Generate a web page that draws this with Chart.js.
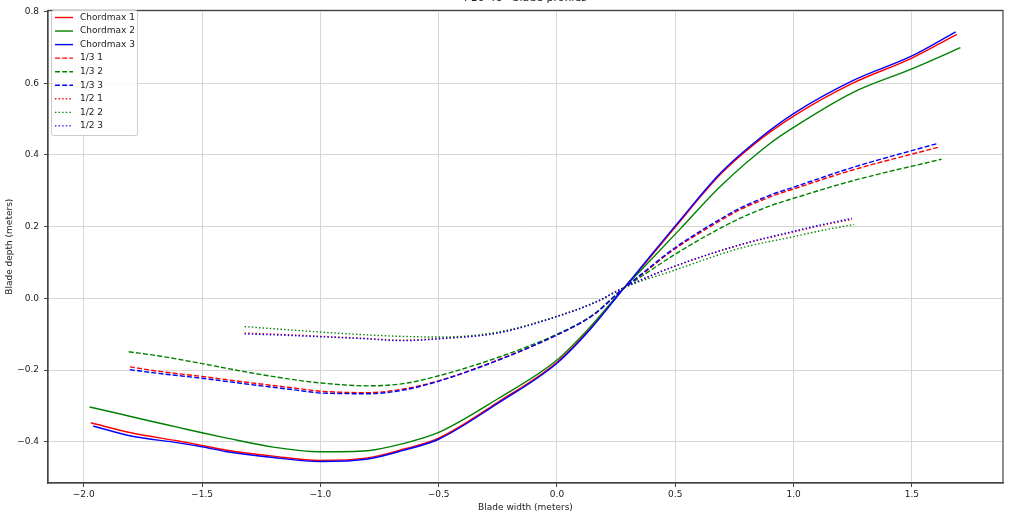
<!DOCTYPE html>
<html>
<head>
<meta charset="utf-8">
<script src="https://cdn.jsdelivr.net/npm/chart.js@4.4.1/dist/chart.umd.min.js"></script>
<style>
  html, body { margin: 0; padding: 0; background: #fff; }
  #wrap { width: 1024px; height: 524px; }
</style>
</head>
<body>
<div id="wrap"><canvas id="profilesChart" width="1024" height="524"></canvas></div>
<script>
// chart texts
const chartTitle = 'F16-4c - blade profiles';
const xTitle = 'Blade width (meters)';
const yTitle = 'Blade depth (meters)';
const seriesNames = ['Chordmax 1', 'Chordmax 2', 'Chordmax 3', '1/3 1', '1/3 2', '1/3 3', '1/2 1', '1/2 2', '1/2 3'];
const xTicks = [-2.0, -1.5, -1.0, -0.5, 0.0, 0.5, 1.0, 1.5];
const yTicks = [-0.4, -0.2, 0.0, 0.2, 0.4, 0.6, 0.8];

// Chordmax profiles (solid)
const chordX1 = [-1.97, -1.8, -1.6, -1.5, -1.4, -1.2, -1.0, -0.8, -0.65, -0.5, -0.25, 0.0, 0.14, 0.28, 0.35, 0.5, 0.69, 0.83, 1.0, 1.25, 1.5, 1.69];
const chordY1 = [-0.347, -0.375, -0.398, -0.410, -0.423, -0.440, -0.452, -0.445, -0.421, -0.390, -0.290, -0.178, -0.085, 0.027, 0.080, 0.199, 0.345, 0.428, 0.508, 0.600, 0.670, 0.736];
const chordX2 = [-1.975, -1.85, -1.72, -1.6, -1.5, -1.4, -1.2, -1.0, -0.8, -0.65, -0.5, -0.25, 0.0, 0.14, 0.28, 0.35, 0.52, 0.69, 0.9, 1.0, 1.25, 1.5, 1.705];
const chordY2 = [-0.303, -0.322, -0.342, -0.360, -0.375, -0.389, -0.415, -0.428, -0.425, -0.405, -0.374, -0.280, -0.172, -0.080, 0.027, 0.075, 0.193, 0.312, 0.432, 0.477, 0.574, 0.640, 0.699];
const chordX3 = [-1.96, -1.8, -1.6, -1.5, -1.4, -1.2, -1.0, -0.8, -0.65, -0.5, -0.25, 0.0, 0.14, 0.28, 0.35, 0.5, 0.69, 0.83, 1.0, 1.25, 1.5, 1.685];
const chordY3 = [-0.356, -0.384, -0.403, -0.414, -0.427, -0.444, -0.455, -0.448, -0.424, -0.393, -0.293, -0.181, -0.087, 0.026, 0.082, 0.202, 0.349, 0.432, 0.515, 0.607, 0.676, 0.743];

// 1/3 profiles (dashed)
const thirdX1 = [-1.805, -1.7, -1.5, -1.3, -1.1, -1.0, -0.8, -0.65, -0.5, -0.25, 0.0, 0.15, 0.28, 0.35, 0.49, 0.63, 0.77, 0.91, 1.0, 1.25, 1.61];
const thirdY1 = [-0.191, -0.202, -0.218, -0.235, -0.251, -0.259, -0.263, -0.253, -0.230, -0.172, -0.102, -0.048, 0.027, 0.062, 0.134, 0.193, 0.246, 0.285, 0.305, 0.358, 0.421];
const thirdX2 = [-1.81, -1.68, -1.5, -1.3, -1.1, -1.0, -0.8, -0.65, -0.5, -0.25, 0.0, 0.15, 0.28, 0.35, 0.49, 0.63, 0.77, 0.91, 1.0, 1.25, 1.625];
const thirdY2 = [-0.149, -0.161, -0.182, -0.207, -0.228, -0.236, -0.244, -0.238, -0.216, -0.165, -0.100, -0.047, 0.027, 0.058, 0.119, 0.174, 0.222, 0.260, 0.279, 0.328, 0.388];
const thirdX3 = [-1.805, -1.7, -1.5, -1.3, -1.1, -1.0, -0.8, -0.65, -0.5, -0.25, 0.0, 0.15, 0.28, 0.35, 0.49, 0.63, 0.77, 0.91, 1.0, 1.25, 1.604];
const thirdY3 = [-0.199, -0.208, -0.223, -0.240, -0.256, -0.264, -0.266, -0.256, -0.231, -0.173, -0.102, -0.048, 0.027, 0.064, 0.137, 0.197, 0.250, 0.290, 0.310, 0.365, 0.431];

// 1/2 profiles (dotted)
const halfX1 = [-1.32, -1.15, -1.0, -0.8, -0.66, -0.5, -0.25, 0.0, 0.17, 0.28, 0.49, 0.77, 1.0, 1.11, 1.247];
const halfY1 = [-0.097, -0.101, -0.106, -0.112, -0.117, -0.112, -0.096, -0.050, -0.009, 0.029, 0.087, 0.148, 0.185, 0.202, 0.220];
const halfX2 = [-1.32, -1.15, -1.0, -0.8, -0.66, -0.5, -0.25, 0.0, 0.17, 0.28, 0.49, 0.77, 1.0, 1.11, 1.256];
const halfY2 = [-0.079, -0.087, -0.094, -0.102, -0.106, -0.108, -0.094, -0.050, -0.008, 0.029, 0.077, 0.139, 0.172, 0.188, 0.206];
const halfX3 = [-1.32, -1.15, -1.0, -0.8, -0.66, -0.5, -0.25, 0.0, 0.17, 0.28, 0.49, 0.77, 1.0, 1.11, 1.247];
const halfY3 = [-0.099, -0.103, -0.107, -0.113, -0.118, -0.113, -0.097, -0.051, -0.009, 0.029, 0.088, 0.149, 0.187, 0.204, 0.223];

const seriesX = [chordX1, chordX2, chordX3, thirdX1, thirdX2, thirdX3, halfX1, halfX2, halfX3];
const seriesY = [chordY1, chordY2, chordY3, thirdY1, thirdY2, thirdY3, halfY1, halfY2, halfY3];

const colors = ['#ff0000', '#008000', '#0000ff'];
const dashes = [[], [5, 2.2], [1.4, 2.2]];
const font = { family: 'DejaVu Sans', size: 9 };

function fmt(v) {
    return (v < 0 ? '\u2212' : '') + Math.abs(v).toFixed(1);
}

const datasets = seriesNames.map(function (name, i) {
    return {
        label: name,
        data: seriesX[i].map(function (x, k) { return { x: x, y: seriesY[i][k] }; }),
        borderColor: colors[i % 3],
        backgroundColor: colors[i % 3],
        borderWidth: 1.4,
        borderDash: dashes[Math.floor(i / 3)],
        pointRadius: 0,
        fill: false,
        cubicInterpolationMode: 'monotone',
        order: seriesNames.length - i
    };
});

// frame, title and legend inside the plot, matplotlib style
const framePlugin = {
    id: 'frame',
    afterDatasetsDraw: function (chart) {
        const c = chart.ctx;
        const a = chart.chartArea;
        c.save();
        c.strokeStyle = '#444';
        c.lineWidth = 1.2;
        c.setLineDash([]);
        c.strokeRect(a.left, a.top, a.right - a.left, a.bottom - a.top);

        c.fillStyle = '#222';
        c.font = '11px "DejaVu Sans"';
        c.textAlign = 'center';
        c.textBaseline = 'alphabetic';
        c.fillText(chartTitle, (a.left + a.right) / 2, 1);

        // legend box
        const bx = 51, by = 10, bw = 86, bh = 125;
        c.fillStyle = 'rgba(255,255,255,0.85)';
        c.strokeStyle = '#cccccc';
        c.lineWidth = 1;
        c.beginPath();
        c.roundRect(bx + 0.5, by + 0.5, bw, bh, 2);
        c.fill();
        c.stroke();

        c.font = '9px "DejaVu Sans"';
        c.textAlign = 'left';
        c.textBaseline = 'middle';
        chart.data.datasets.forEach(function (ds, i) {
            const y = 17.5 + i * 13.55;
            c.strokeStyle = ds.borderColor;
            c.lineWidth = ds.borderWidth;
            c.setLineDash(ds.borderDash);
            c.beginPath();
            c.moveTo(55, y);
            c.lineTo(73, y);
            c.stroke();
            c.fillStyle = '#222';
            c.fillText(ds.label, 80, y);
        });
        c.restore();
    }
};

const ctx = document.getElementById('profilesChart').getContext('2d');

new Chart(ctx, {
    type: 'line',
    data: { datasets: datasets },
    options: {
        responsive: false,
        animation: false,
        devicePixelRatio: 1,
        layout: { padding: { top: 6, right: 21, left: 0, bottom: 0 } },
        plugins: {
            legend: { display: false },
            title: { display: false },
            tooltip: { enabled: false }
        },
        scales: {
            x: {
                type: 'linear',
                min: -2.151,
                max: 1.885,
                afterBuildTicks: function (s) { s.ticks = xTicks.map(function (v) { return { value: v }; }); },
                afterFit: function (s) { s.height = 41; },
                ticks: { font: font, color: '#222', padding: 2, maxRotation: 0, autoSkip: false, callback: fmt },
                grid: { color: '#d6d6d6', tickColor: '#444', tickLength: 4, lineWidth: 1 },
                border: { display: true, color: '#444', width: 1.2 },
                title: { display: true, text: xTitle, font: font, color: '#222', padding: { top: 0, bottom: 11 } }
            },
            y: {
                type: 'linear',
                min: -0.515,
                max: 0.803,
                afterBuildTicks: function (s) { s.ticks = yTicks.map(function (v) { return { value: v }; }); },
                afterFit: function (s) { s.width = 48; },
                ticks: { font: font, color: '#222', padding: 5, autoSkip: false, callback: fmt },
                grid: { color: '#d6d6d6', tickColor: '#444', tickLength: 4, lineWidth: 1 },
                border: { display: true, color: '#444', width: 1.2 },
                title: { display: true, text: yTitle, font: font, color: '#222', padding: { top: 4, bottom: 4 } }
            }
        }
    },
    plugins: [framePlugin]
});
</script>
</body>
</html>
